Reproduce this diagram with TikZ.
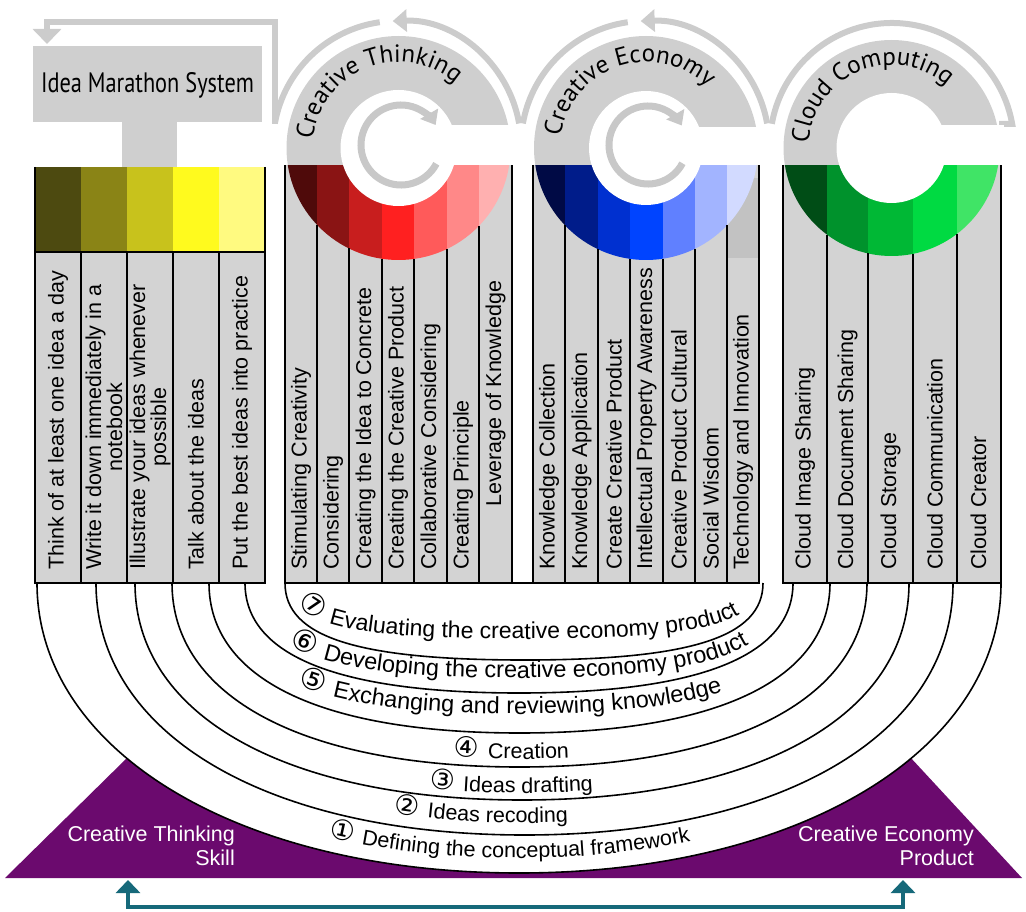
\documentclass[tikz,border=0pt]{standalone}
\usepackage{graphicx}
\usepackage{fontspec}
\setmainfont{Liberation Sans}
\newfontfamily\cnum{DejaVu Sans}
\newfontfamily\ptsans{PT Sans}
\usetikzlibrary{arrows.meta,decorations.text}

\definecolor{colgray}{HTML}{D3D3D3}
\definecolor{ringgray}{HTML}{CFCFCF}
\definecolor{loopgray}{HTML}{CCCCCC}
\definecolor{arrowgray}{HTML}{C8C8C8}
\definecolor{techgray}{HTML}{C2C2C2}
\definecolor{purp}{HTML}{6B0A6E}
\definecolor{tealc}{HTML}{16697A}
\definecolor{ya}{HTML}{4D4A10}
\definecolor{yb}{HTML}{8A8416}
\definecolor{yc}{HTML}{C8C21C}
\definecolor{yd}{HTML}{FFFA1E}
\definecolor{ye}{HTML}{FFFA80}
\definecolor{ra}{HTML}{4F0A0A}
\definecolor{rb}{HTML}{8A1414}
\definecolor{rc}{HTML}{C81E1E}
\definecolor{rd}{HTML}{FF2020}
\definecolor{re}{HTML}{FF5A5A}
\definecolor{rf}{HTML}{FF8888}
\definecolor{rg}{HTML}{FFB0B0}
\definecolor{ba}{HTML}{000A45}
\definecolor{bb}{HTML}{001C8A}
\definecolor{bc}{HTML}{0030D0}
\definecolor{bd}{HTML}{0044FF}
\definecolor{be}{HTML}{6080FF}
\definecolor{bf}{HTML}{A2B4FF}
\definecolor{bg}{HTML}{D2DAFF}
\definecolor{ga}{HTML}{004D16}
\definecolor{gb}{HTML}{00922C}
\definecolor{gc}{HTML}{00B835}
\definecolor{gd}{HTML}{00DA42}
\definecolor{ge}{HTML}{40E466}

\newcommand\Upath[4]{(#1,583) .. controls (#1,{583+#4*#3}) and ({(#1+#2)/2-#4*(#2-#1)/2},{583+#3}) .. ({(#1+#2)/2},{583+#3}) .. controls ({(#1+#2)/2+#4*(#2-#1)/2},{583+#3}) and (#2,{583+#4*#3}) .. (#2,583)}
\newcommand\bandfont{\fontsize{23.5}{25}\selectfont}
\newcommand\bandfontc{\fontsize{23}{25}\selectfont}
\newcommand\bandfontb{\fontsize{21.5}{24}\selectfont}
\newcommand\numfont{\fontsize{30}{30}\selectfont\cnum}
\newcommand\numfontb{\fontsize{28}{28}\selectfont\cnum}
\newcommand\ringfont{\ptsans\fontsize{25}{27}\selectfont}

\tikzset{
  lab/.style={rotate=90, anchor=west, inner sep=0pt, align=center, font=\fontsize{21.5}{20}\selectfont},
  ucurve/.style={draw=black, line width=1.6pt},
  loopline/.style={draw=loopgray, line width=6pt},
  sepline/.style={draw=black, line width=1.2pt},
  inarrow/.style={draw=arrowgray, line width=7pt, -{Triangle[width=20pt,length=13pt]}},
  purptext/.style={text=white, align=right, inner sep=0pt, anchor=north east, font=\fontsize{21.5}{23.5}\selectfont},
}

\begin{document}
\begin{tikzpicture}[x=1pt,y=-1pt]
\useasboundingbox (0,0) rectangle (1026,912);

% ---------- purple base ----------
\fill[purp] (5,878) -- (128,757) -- (910,757) -- (1022,878) -- cycle;
\fill[white] \Upath{37}{1001}{290}{0.58} -- cycle;
\node[purptext] (cts) at (235,826) {Creative Thinking\\Skill};
\node[purptext] (cep) at (974,826) {Creative Economy\\Product};

% ---------- teal arrow ----------
\coordinate (tl) at (128,880);
\coordinate (tr) at (903,880);
\draw[tealc, line width=4.5pt, {Triangle[width=24pt,length=13pt]}-{Triangle[width=24pt,length=13pt]}] (tl) -- (128,907) -- (903,907) -- (tr);

% ---------- gray loops ----------
\draw[loopline, -{Triangle[width=28pt,length=15pt]}] (275,124) -- (275,22) -- (47,22) -- (47,44);
\begin{scope}[shift={(397,145)}]
  \draw[loopline, -{Triangle[width=22pt,length=14pt]}] (350:124) arc[start angle=350, end angle=268, radius=124];
  \draw[loopline] (262:124) arc[start angle=262, end angle=190, radius=124];
\end{scope}
\begin{scope}[shift={(645,145)}]
  \draw[loopline, -{Triangle[width=22pt,length=14pt]}] (350:124) arc[start angle=350, end angle=268, radius=124];
  \draw[loopline] (262:124) arc[start angle=262, end angle=190, radius=124];
\end{scope}
\begin{scope}[shift={(892,145)}]
  \draw[loopline] (190:122) arc[start angle=190, end angle=350, radius=122] -- ++(-13,0);
\end{scope}

% ---------- Idea Marathon System ----------
\fill[ringgray] (33,46) rectangle (262,122);
\fill[ringgray] (122,121) rectangle (177,168);
\node[anchor=base, inner sep=0pt] (ims) at (147.5,93) {\resizebox{213pt}{20pt}{\ptsans Idea Marathon System}};

% yellow group
\foreach \xa/\xb/\cc in {35/81/ya, 81/127/yb, 127/173/yc, 173/219/yd, 219/265/ye} {
  \fill[fill=\cc] (\xa,167) rectangle (\xb,252);
  \filldraw[fill=colgray, sepline] (\xa,252) rectangle (\xb,583);
}
\draw[sepline] (35,167) -- (35,583);
\draw[sepline] (265,167) -- (265,583);
\node[lab] (ya1) at (58,570) {Think of at least one idea a day};
\node[lab] (ya2) at (104,570) {Write it down immediately in a\\notebook};
\node[lab] (ya3) at (150,570) {Illustrate your ideas whenever\\possible};
\node[lab] (ya4) at (196,570) {Talk about the ideas};
\node[lab] (ya5) at (242,570) {Put the best ideas into practice};

% ---------- Creative Thinking group ----------
\fill[colgray] (285,165) rectangle (512,583);
\begin{scope}
  \clip (398.5,148) circle[radius=112];
  \foreach \xa/\xb/\cc in {285/317/ra, 317/349/rb, 349/382/rc, 382/414/rd, 414/447/re, 447/479/rf, 479/512/rg}
    {\fill[fill=\cc] (\xa,165) rectangle (\xb,262);}
\end{scope}
\begin{scope}
  \clip (280,30) rectangle (520,165);
  \fill[ringgray] (398.5,148) circle[radius=112];
\end{scope}
\fill[white] (398.5,148) circle[radius=58];
\fill[white] (398.5,125) rectangle (513,165);
\begin{scope}[shift={(401,145)}]
  \draw[inarrow] (28:40) arc[start angle=28, end angle=330, radius=40];
\end{scope}
\foreach \x in {317,349,382,414,447,479}
  {\draw[sepline] (\x,{148+sqrt(12544-(\x-398.5)^2)}) -- (\x,583);}
\draw[sepline] (285,165) -- (285,583) -- (512,583) -- (512,165);
\begin{scope}[shift={(398.5,148)}]
  \path[decorate, decoration={text along path, text align=center, text={|\ringfont|Creative Thinking}}]
    (172:86) arc[start angle=172, end angle=325, radius=86];
\end{scope}
\node[lab] (ct1) at (301,570) {Stimulating Creativity};
\node[lab] (ct2) at (333,570) {Considering};
\node[lab] (ct3) at (365.5,570) {Creating the Idea to Concrete};
\node[lab] (ct4) at (398,570) {Creating the Creative Product};
\node[lab] (ct5) at (430.5,570) {Collaborative Considering};
\node[lab] (ct6) at (463,570) {Creating Principle};
\node[lab] (ct7) at (495.5,507) {Leverage of Knowledge};

% ---------- Creative Economy group ----------
\fill[colgray] (533,165) rectangle (759,583);
\fill[techgray] (727,178) rectangle (759,258);
\begin{scope}
  \clip (646,148) circle[radius=112];
  \foreach \xa/\xb/\cc in {533/565/ba, 565/598/bb, 598/630/bc, 630/663/bd, 663/695/be, 695/727/bf, 727/759/bg}
    {\fill[fill=\cc] (\xa,165) rectangle (\xb,262);}
\end{scope}
\begin{scope}
  \clip (530,30) rectangle (765,165);
  \fill[ringgray] (646,148) circle[radius=112];
\end{scope}
\fill[white] (646,148) circle[radius=57];
\fill[white] (646,127) rectangle (760,165);
\begin{scope}[shift={(648,145)}]
  \draw[inarrow] (28:39) arc[start angle=28, end angle=330, radius=39];
\end{scope}
\foreach \x in {565,598,630,663,695,727}
  {\draw[sepline] (\x,{148+sqrt(12544-(\x-646)^2)}) -- (\x,583);}
\draw[sepline] (533,165) -- (533,583) -- (759,583) -- (759,165);
\draw[sepline] (512,583) -- (533,583);
\begin{scope}[shift={(646,148)}]
  \path[decorate, decoration={text along path, text align=center, text={|\ringfont|Creative Economy}}]
    (175:86) arc[start angle=175, end angle=328, radius=86];
\end{scope}
\node[lab] (ce1) at (549,570) {Knowledge Collection};
\node[lab] (ce2) at (581.5,570) {Knowledge Application};
\node[lab] (ce3) at (614,570) {Create Creative Product};
\node[lab] (ce4) at (646.5,570) {Intellectual Property Awareness};
\node[lab] (ce5) at (679,570) {Creative Product Cultural};
\node[lab] (ce6) at (711,570) {Social Wisdom};
\node[lab] (ce7) at (743,570) {Technology and Innovation};

% ---------- Cloud Computing group ----------
\fill[colgray] (783,165) rectangle (1001,583);
\begin{scope}
  \clip (891.5,148) circle[radius=108];
  \foreach \xa/\xb/\cc in {783/827/ga, 827/868/gb, 868/913/gc, 913/957/gd, 957/1001/ge}
    {\fill[fill=\cc] (\xa,165) rectangle (\xb,262);}
\end{scope}
\begin{scope}
  \clip (775,30) rectangle (1010,165);
  \fill[ringgray] (891.5,148) circle[radius=108];
\end{scope}
\fill[white] (891.5,148) circle[radius=55];
\fill[white] (891.5,125) rectangle (1004,165);
\foreach \x in {827,868,913,957}
  {\draw[sepline] (\x,{148+sqrt(11664-(\x-891.5)^2)}) -- (\x,583);}
\draw[sepline] (783,165) -- (783,583) -- (1001,583) -- (1001,165);
\begin{scope}[shift={(891.5,148)}]
  \path[decorate, decoration={text along path, text align=center, text={|\ringfont|Cloud Computing}}]
    (171:83) arc[start angle=171, end angle=324, radius=83];
\end{scope}
\node[lab] (cc1) at (805,570) {Cloud Image Sharing};
\node[lab] (cc2) at (847.5,570) {Cloud Document Sharing};
\node[lab] (cc3) at (890.5,570) {Cloud Storage};
\node[lab] (cc4) at (935,570) {Cloud Communication};
\node[lab] (cc5) at (978.5,570) {Cloud Creator};

% ---------- U curves ----------
\draw[ucurve] \Upath{37}{1001}{290}{0.58};
\draw[ucurve] \Upath{96}{953}{252}{0.6};
\draw[ucurve] \Upath{135}{909}{217}{0.61};
\draw[ucurve] \Upath{172}{867}{184}{0.62};
\draw[ucurve] \Upath{209}{830}{150}{0.64};
\draw[ucurve] \Upath{245}{793}{110}{0.66};
\draw[ucurve] \Upath{285}{763}{77}{0.7};

% ---------- band texts ----------
\path[decorate, decoration={text along path, text align={center, right indent=14pt},
  text={|\numfont|⑦ |\bandfontc|Evaluating the creative economy product}}] \Upath{290}{758}{56}{0.75};
\path[decorate, decoration={text along path, text align=center,
  text={|\numfont|⑥ |\bandfont|Developing the creative economy product}}] \Upath{253}{785}{95}{0.72};
\path[decorate, decoration={text along path, text align={center, right indent=20pt},
  text={|\numfont|⑤ |\bandfont|Exchanging and reviewing knowledge}}] \Upath{220}{819}{131}{0.7};
\path[decorate, decoration={text along path, text align={center, right indent=16pt},
  text={|\numfontb|④ |\bandfontb|Creation}}] \Upath{180}{859}{176}{0.64};
\path[decorate, decoration={text along path, text align={center, right indent=22pt},
  text={|\numfontb|③ |\bandfontb|Ideas drafting}}] \Upath{143}{901}{210}{0.62};
\path[decorate, decoration={text along path, text align={center, right indent=88pt},
  text={|\numfontb|② |\bandfontb|Ideas recoding}}] \Upath{104}{945}{240}{0.6};
\path[decorate, decoration={text along path, text align={center, right indent=20pt},
  text={|\numfontb|① |\bandfontb|Defining the conceptual framework}}] \Upath{48}{990}{275}{0.58};

\end{tikzpicture}
\end{document}
